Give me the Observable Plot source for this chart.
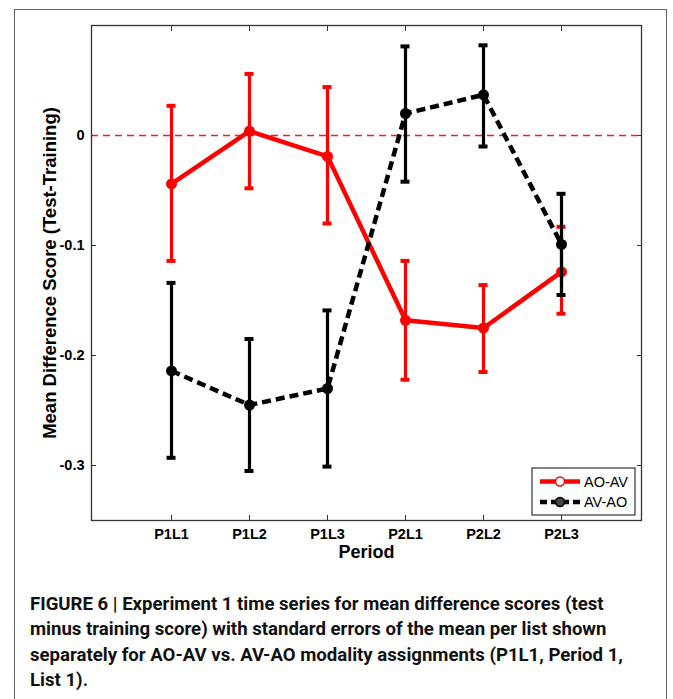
<!DOCTYPE html>
<html>
<head>
<meta charset="utf-8">
<script src="https://cdn.jsdelivr.net/npm/d3@7"></script>
<script src="https://cdn.jsdelivr.net/npm/@observablehq/plot@0.6"></script>
<style>
  body { margin: 0; background: #fff; width: 673px; height: 699px; overflow: hidden; position: relative; }
  #frame { position: absolute; left: 14px; top: 9px; width: 653px; height: 720px; border: 1.5px solid #666; box-sizing: border-box; }
  #chart { position: absolute; left: 0; top: 0; }
  #legend { position: absolute; left: 0; top: 0; }
  #caption { position: absolute; left: 30px; top: 592px; width: 640px; font-family: "Roboto", sans-serif; font-weight: bold; font-size: 18.6px; line-height: 25.3px; color: #111; white-space: nowrap; }
</style>
</head>
<body>
<div id="frame"></div>
<div id="chart"></div>
<svg id="legend" width="673" height="560"></svg>
<div id="caption">FIGURE 6 | Experiment 1 time series for mean difference scores (test<br>minus training score) with standard errors of the mean per list shown<br>separately for AO-AV vs. AV-AO modality assignments (P1L1, Period 1,<br>List 1).</div>
<script>
const periods = ["P1L1", "P1L2", "P1L3", "P2L1", "P2L2", "P2L3"];
const seriesNames = ["AO-AV", "AV-AO"];
const aoavMean = [-0.044, 0.004, -0.019, -0.168, -0.175, -0.124];
const aoavLow  = [-0.114, -0.048, -0.080, -0.222, -0.215, -0.162];
const aoavHigh = [0.027, 0.056, 0.044, -0.114, -0.136, -0.083];
const avaoMean = [-0.214, -0.245, -0.230, 0.020, 0.037, -0.099];
const avaoLow  = [-0.293, -0.305, -0.301, -0.042, -0.010, -0.145];
const avaoHigh = [-0.134, -0.185, -0.159, 0.081, 0.082, -0.053];
const yTicks = [-0.3, -0.2, -0.1, 0];
const yDomain = [-0.35, 0.1];
const zeroLine = [0];

const aoav = periods.map((p, i) => ({period: p, mean: aoavMean[i], lo: aoavLow[i], hi: aoavHigh[i]}));
const avao = periods.map((p, i) => ({period: p, mean: avaoMean[i], lo: avaoLow[i], hi: avaoHigh[i]}));

const RED = "#ff0000", BLACK = "#000000";
const axisFont = "Liberation Sans, Arial, sans-serif";

function seriesMarks(data, color, dash) {
  return [
    Plot.ruleX(data, {x: "period", y1: "lo", y2: "hi", stroke: color, strokeWidth: 3.2}),
    Plot.ruleY(data, {x1: "period", x2: "period", y: "hi", stroke: color, strokeWidth: 4, insetLeft: -4.5, insetRight: -4.5}),
    Plot.ruleY(data, {x1: "period", x2: "period", y: "lo", stroke: color, strokeWidth: 4, insetLeft: -4.5, insetRight: -4.5}),
    Plot.line(data, {x: "period", y: "mean", stroke: color, strokeWidth: 4.5, strokeDasharray: dash, strokeLinecap: "butt"}),
    Plot.dot(data, {x: "period", y: "mean", fill: color, r: 5.5, stroke: "none"})
  ];
}

const chart = Plot.plot({
  width: 673,
  height: 570,
  marginLeft: 91,
  marginRight: 32,
  marginTop: 25,
  marginBottom: 50,
  style: {fontFamily: axisFont, fontSize: "14px", fontWeight: "bold", background: "transparent", color: "#000"},
  x: {type: "point", domain: periods, padding: 1},
  y: {domain: yDomain},
  marks: [
    Plot.axisX({anchor: "bottom", tickSize: -5, tickPadding: 13, stroke: "#333", label: null, fontSize: 14.5}),
    Plot.axisX({anchor: "top", tickSize: -5, stroke: "#333", label: null, tickFormat: () => ""}),
    Plot.axisY({anchor: "left", ticks: yTicks, tickSize: -5, tickPadding: 12, stroke: "#333", label: null, fontSize: 14.5, tickFormat: d => d === 0 ? "0" : String(d)}),
    Plot.axisY({anchor: "right", ticks: yTicks, tickSize: -5, stroke: "#333", label: null, tickFormat: () => ""}),
    Plot.ruleY(zeroLine, {y: d => d, stroke: "#ff1a1a", strokeWidth: 1.4, strokeDasharray: "7,5"}),
    Plot.text(["Period"], {frameAnchor: "bottom", lineAnchor: "middle", dy: 31.5, fontSize: 18, fontWeight: "bold", text: d => d}),
    Plot.text(["Mean Difference Score (Test-Training)"], {frameAnchor: "left", textAnchor: "middle", lineAnchor: "middle", dx: -41.5, rotate: -90, fontSize: 18.5, fontWeight: "bold", text: d => d}),
    ...seriesMarks(aoav, RED, null),
    ...seriesMarks(avao, BLACK, "9,5"),
    Plot.frame({stroke: "#333", strokeWidth: 1.3})
  ]
});
document.getElementById("chart").append(chart);

// Legend
const leg = d3.select("#legend");
const lx = 532, ly = 468, lw = 103, lh = 47;
leg.append("rect").attr("x", lx).attr("y", ly).attr("width", lw).attr("height", lh)
  .attr("fill", "#fff").attr("stroke", "#333").attr("stroke-width", 1.2);
const entries = [
  {name: seriesNames[0], color: RED, dash: null},
  {name: seriesNames[1], color: BLACK, dash: "7,4"}
];
entries.forEach((e, i) => {
  const yy = ly + 13.5 + i * 20.5;
  leg.append("line").attr("x1", lx + 8).attr("x2", lx + 48).attr("y1", yy).attr("y2", yy)
    .attr("stroke", e.color).attr("stroke-width", 4.5).attr("stroke-dasharray", e.dash);
  leg.append("circle").attr("cx", lx + 28).attr("cy", yy).attr("r", 4.5)
    .attr("fill", e.color === RED ? "#fff" : "#444").attr("stroke", e.color).attr("stroke-width", 1.5);
  leg.append("text").attr("x", lx + 52).attr("y", yy + 5).text(e.name)
    .attr("font-family", axisFont).attr("font-size", 14.5).attr("fill", "#000");
});
</script>
</body>
</html>
